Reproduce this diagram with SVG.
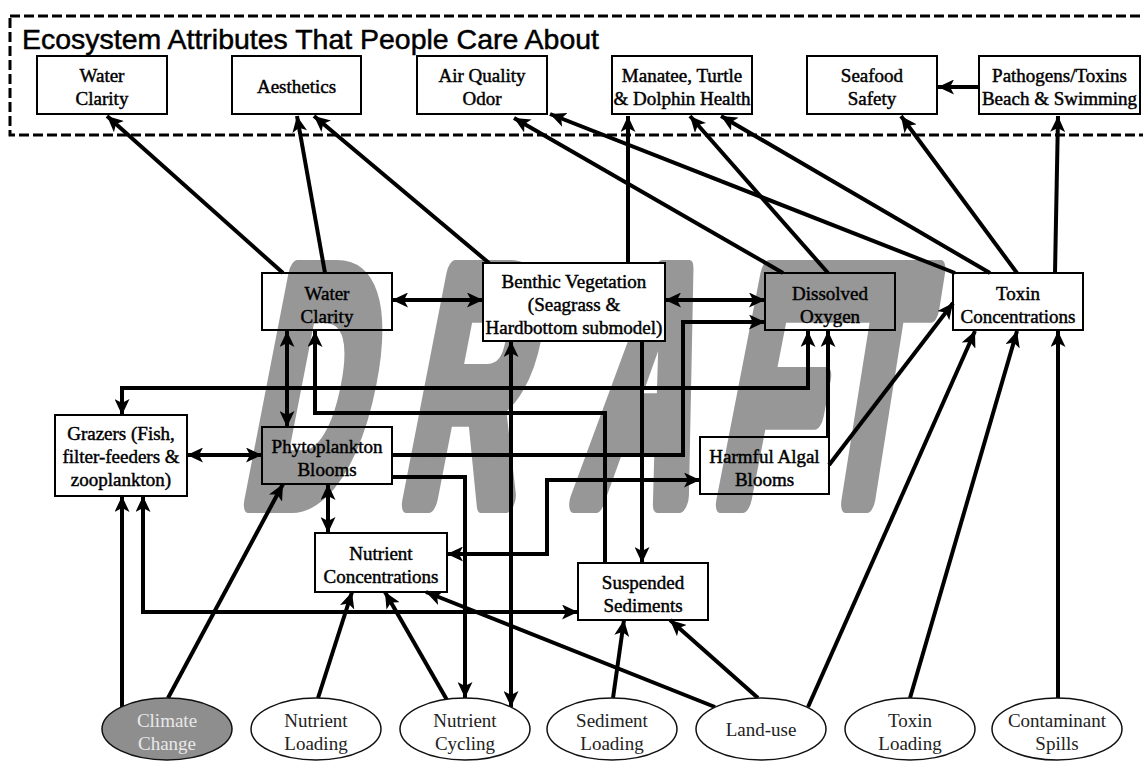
<svg xmlns="http://www.w3.org/2000/svg" width="1143" height="762" viewBox="0 0 1143 762">
  <defs>
    <style>
      .box{fill:none;stroke:#000;stroke-width:2}
      .boxw{fill:#fff;stroke:#000;stroke-width:2}
      .lbl{font-family:"Liberation Serif","Times New Roman",serif;font-size:19px;fill:#000;stroke:#000;stroke-width:0.45;text-anchor:middle}
      .src{fill:#fff;stroke:#111;stroke-width:1.5}
      .srcdark{fill:#8e8e8e;stroke:#111;stroke-width:1.5}
      .srclbl{font-family:"Liberation Serif","Times New Roman",serif;font-size:19px;fill:#222;text-anchor:middle}
      .wire{fill:none;stroke:#000;stroke-width:4;marker-end:url(#ah)}
      .both{marker-start:url(#ah)}
      .wm{font-family:"Liberation Sans",Arial,sans-serif;font-weight:bold;font-size:330px;fill:#979797;stroke:#979797;stroke-width:26;stroke-linejoin:round}
      .title{font-family:"Liberation Sans",Arial,sans-serif;font-size:28px;fill:#000;stroke:#000;stroke-width:0.5}
    </style>
    <marker id="ah" markerUnits="userSpaceOnUse" markerWidth="17" markerHeight="15" refX="16" refY="7.5" orient="auto-start-reverse">
      <path d="M0,0 L16,7.5 L0,15 L4,7.5 Z" fill="#000"/>
    </marker>
  </defs>

  <rect width="1143" height="762" fill="#fff"/>

  <!-- DRAFT watermark, condensed slanted letters -->
  <g id="watermark">
    <text class="wm" transform="translate(240,500) skewX(-11) scale(0.48,1)">D</text>
    <text class="wm" transform="translate(398,500) skewX(-11) scale(0.48,1)">R</text>
    <text class="wm" transform="translate(572,500) skewX(-11) scale(0.48,1)">A</text>
    <text class="wm" transform="translate(712,500) skewX(-11) scale(0.48,1)">F</text>
    <text class="wm" transform="translate(812,500) skewX(-9) scale(0.46,1)">T</text>
  </g>

  <!-- connectors -->
  <g id="connectors">
    <path class="wire" d="M283,273 L107,116"/>
    <path class="wire" d="M325,273 L297,116"/>
    <path class="wire" d="M489,263 L314,116"/>
    <path class="wire" d="M628,263 L628,116"/>
    <path class="wire" d="M783,273 L514,118"/>
    <path class="wire" d="M955,273 L550,114"/>
    <path class="wire" d="M828,273 L690,116"/>
    <path class="wire" d="M990,273 L721,116"/>
    <path class="wire" d="M1017,273 L901,116"/>
    <path class="wire" d="M1055,273 L1058,116"/>
    <path class="wire" d="M979,87 L938,87"/>
    <path class="wire both" d="M392,300 L483,300"/>
    <path class="wire both" d="M665,300 L765,300"/>
    <path class="wire both" d="M287,331 L287,427"/>
    <path class="wire" d="M605,563 L605,413 L315,413 L315,331"/>
    <path class="wire both" d="M122,415 L122,388 L808,388 L808,331"/>
    <path class="wire" d="M828,437 L828,331"/>
    <path class="wire" d="M392,455 L683,455 L683,322 L765,322"/>
    <path class="wire" d="M392,477 L465,477 L465,698"/>
    <path class="wire both" d="M511,341 L511,707"/>
    <path class="wire" d="M642,341 L642,563"/>
    <path class="wire both" d="M447,554 L547,554 L547,480 L700,480"/>
    <path class="wire" d="M829,465 L953,303"/>
    <path class="wire both" d="M187,455 L262,455"/>
    <path class="wire both" d="M328,484 L328,533"/>
    <path class="wire" d="M122,707 L122,496"/>
    <path class="wire" d="M168,698 L283,484"/>
    <path class="wire both" d="M143,496 L143,612 L578,612"/>
    <path class="wire" d="M318,698 L352,592"/>
    <path class="wire" d="M447,700 L385,592"/>
    <path class="wire" d="M715,707 L426,592"/>
    <path class="wire" d="M613,698 L624,620"/>
    <path class="wire" d="M758,698 L670,620"/>
    <path class="wire" d="M808,707 L975,331"/>
    <path class="wire" d="M910,698 L1017,331"/>
    <path class="wire" d="M1058,698 L1058,331"/>
  </g>

  <!-- outcome frame -->
  <g id="attributes-frame">
    <rect x="10" y="16" width="1140" height="119" fill="none" stroke="#000" stroke-width="3" stroke-dasharray="10 4"/>
    <text class="title" x="22" y="49" textLength="577" lengthAdjust="spacingAndGlyphs">Ecosystem Attributes That People Care About</text>
  </g>

  <!-- outcome nodes -->
  <g id="n-water-clarity-top"><rect class="box" x="37" y="56" width="130" height="58"/><text class="lbl" x="102" y="82">Water</text><text class="lbl" x="102" y="105">Clarity</text></g>
  <g id="n-aesthetics"><rect class="box" x="232" y="56" width="129" height="58"/><text class="lbl" x="296.5" y="93">Aesthetics</text></g>
  <g id="n-air-quality"><rect class="box" x="417" y="56" width="130" height="58"/><text class="lbl" x="482" y="82">Air Quality</text><text class="lbl" x="482" y="105">Odor</text></g>
  <g id="n-manatee"><rect class="box" x="612" y="56" width="140" height="58"/><text class="lbl" x="682" y="82">Manatee, Turtle</text><text class="lbl" x="682" y="105">&amp; Dolphin Health</text></g>
  <g id="n-seafood"><rect class="box" x="807" y="56" width="130" height="58"/><text class="lbl" x="872" y="82">Seafood</text><text class="lbl" x="872" y="105">Safety</text></g>
  <g id="n-pathogens"><rect class="box" x="979" y="56" width="161" height="58"/><text class="lbl" x="1059.5" y="82">Pathogens/Toxins</text><text class="lbl" x="1059.5" y="105">Beach &amp; Swimming</text></g>

  <!-- state nodes -->
  <g id="n-water-clarity"><rect class="box" x="262" y="273" width="130" height="57"/><text class="lbl" x="327" y="300">Water</text><text class="lbl" x="327" y="323">Clarity</text></g>
  <g id="n-benthic"><rect class="boxw" x="483" y="263" width="182" height="78"/><text class="lbl" x="574" y="288">Benthic Vegetation</text><text class="lbl" x="574" y="311">(Seagrass &amp;</text><text class="lbl" x="574" y="334">Hardbottom submodel)</text></g>
  <g id="n-dissolved-oxygen"><rect class="box" x="765" y="273" width="130" height="57"/><text class="lbl" x="830" y="300">Dissolved</text><text class="lbl" x="830" y="323">Oxygen</text></g>
  <g id="n-toxin-conc"><rect class="box" x="953" y="273" width="130" height="57"/><text class="lbl" x="1018" y="300">Toxin</text><text class="lbl" x="1018" y="323">Concentrations</text></g>
  <g id="n-grazers"><rect class="box" x="55" y="415" width="132" height="81"/><text class="lbl" x="121" y="440">Grazers (Fish,</text><text class="lbl" x="121" y="463">filter-feeders &amp;</text><text class="lbl" x="121" y="486">zooplankton)</text></g>
  <g id="n-phytoplankton"><rect class="box" x="262" y="427" width="130" height="57"/><text class="lbl" x="327" y="453">Phytoplankton</text><text class="lbl" x="327" y="476">Blooms</text></g>
  <g id="n-hab"><rect class="box" x="700" y="437" width="129" height="57"/><text class="lbl" x="764.5" y="463">Harmful Algal</text><text class="lbl" x="764.5" y="486">Blooms</text></g>
  <g id="n-nutrients"><rect class="box" x="315" y="533" width="132" height="59"/><text class="lbl" x="381" y="560">Nutrient</text><text class="lbl" x="381" y="583">Concentrations</text></g>
  <g id="n-sediments"><rect class="box" x="578" y="563" width="130" height="57"/><text class="lbl" x="643" y="589">Suspended</text><text class="lbl" x="643" y="612">Sediments</text></g>

  <!-- drivers -->
  <g id="d-climate"><ellipse class="srcdark" cx="167" cy="729" rx="65" ry="31"/><text class="srclbl" x="167" y="727" style="fill:#e8e8e8">Climate</text><text class="srclbl" x="167" y="750" style="fill:#e8e8e8">Change</text></g>
  <g id="d-nutrient-loading"><ellipse class="src" cx="316" cy="729" rx="65" ry="31"/><text class="srclbl" x="316" y="727">Nutrient</text><text class="srclbl" x="316" y="750">Loading</text></g>
  <g id="d-nutrient-cycling"><ellipse class="src" cx="465" cy="729" rx="65" ry="31"/><text class="srclbl" x="465" y="727">Nutrient</text><text class="srclbl" x="465" y="750">Cycling</text></g>
  <g id="d-sediment-loading"><ellipse class="src" cx="612" cy="729" rx="65" ry="31"/><text class="srclbl" x="612" y="727">Sediment</text><text class="srclbl" x="612" y="750">Loading</text></g>
  <g id="d-land-use"><ellipse class="src" cx="761" cy="729" rx="65" ry="31"/><text class="srclbl" x="761" y="736">Land-use</text></g>
  <g id="d-toxin-loading"><ellipse class="src" cx="910" cy="729" rx="65" ry="31"/><text class="srclbl" x="910" y="727">Toxin</text><text class="srclbl" x="910" y="750">Loading</text></g>
  <g id="d-spills"><ellipse class="src" cx="1057" cy="729" rx="65" ry="31"/><text class="srclbl" x="1057" y="727">Contaminant</text><text class="srclbl" x="1057" y="750">Spills</text></g>
</svg>
